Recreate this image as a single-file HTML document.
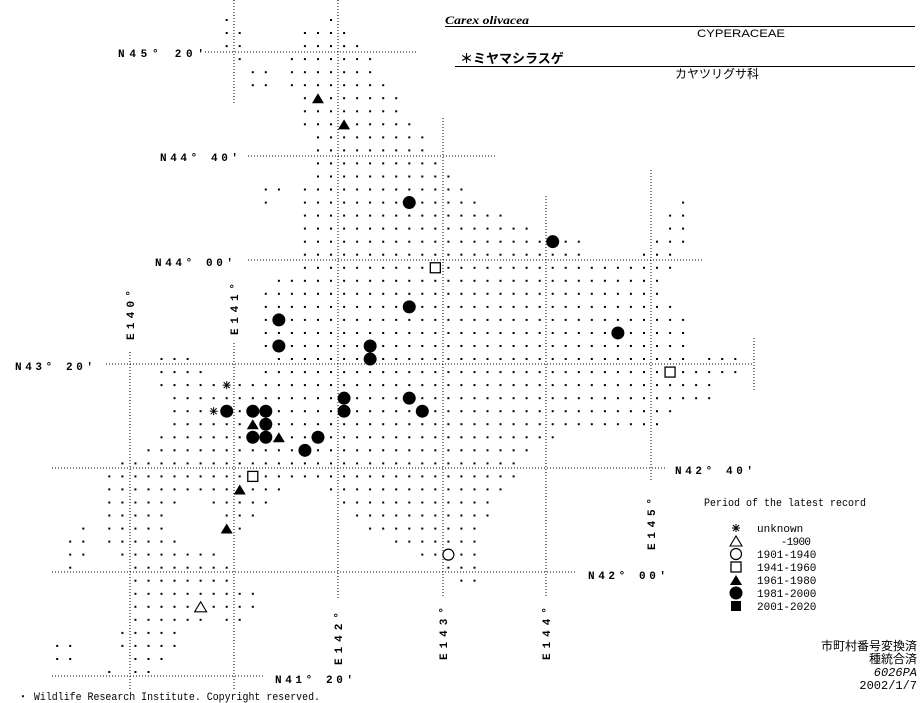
<!DOCTYPE html>
<html><head><meta charset="utf-8"><style>
html,body{margin:0;padding:0;background:#fff;}
svg{display:block;}
.ax{font-family:"Liberation Mono",monospace;font-weight:bold;font-size:11px;fill:#000;}
.mono{font-family:"Liberation Mono",monospace;font-size:11px;fill:#000;}
.jp{font-family:"Liberation Sans","Noto Sans CJK JP",sans-serif;fill:#000;}
</style></head><body>
<svg id="m" width="923" height="703" viewBox="0 0 923 703" xmlns="http://www.w3.org/2000/svg">
<g stroke="#000" stroke-width="1" stroke-dasharray="1,2" fill="none">
<line x1="234" y1="0" x2="234" y2="105"/>
<line x1="234" y1="343" x2="234" y2="690"/>
<line x1="130" y1="352" x2="130" y2="690"/>
<line x1="338" y1="0" x2="338" y2="598"/>
<line x1="443" y1="118" x2="443" y2="598"/>
<line x1="546" y1="196" x2="546" y2="598"/>
<line x1="651" y1="170" x2="651" y2="480"/>
<line x1="754" y1="338" x2="754" y2="390"/>
<line x1="205" y1="52" x2="417" y2="52"/>
<line x1="248" y1="156" x2="497" y2="156"/>
<line x1="248" y1="260" x2="703" y2="260"/>
<line x1="106" y1="364" x2="754" y2="364"/>
<line x1="52" y1="468" x2="665" y2="468"/>
<line x1="52" y1="572" x2="577" y2="572"/>
<line x1="52" y1="676" x2="265" y2="676"/>
</g>
<g class="ax">
<text x="118" y="57" textLength="86" lengthAdjust="spacing">N45° 20′</text>
<text x="160" y="161" textLength="78" lengthAdjust="spacing">N44° 40′</text>
<text x="155" y="266" textLength="78" lengthAdjust="spacing">N44° 00′</text>
<text x="15" y="370" textLength="78" lengthAdjust="spacing">N43° 20′</text>
<text x="675" y="474" textLength="78" lengthAdjust="spacing">N42° 40′</text>
<text x="588" y="579" textLength="78" lengthAdjust="spacing">N42° 00′</text>
<text x="275" y="683" textLength="78" lengthAdjust="spacing">N41° 20′</text>
<text transform="translate(134,340) rotate(-90)" textLength="50" lengthAdjust="spacing">E140°</text>
<text transform="translate(238,335) rotate(-90)" textLength="52" lengthAdjust="spacing">E141°</text>
<text transform="translate(342,665) rotate(-90)" textLength="53" lengthAdjust="spacing">E142°</text>
<text transform="translate(447,660) rotate(-90)" textLength="53" lengthAdjust="spacing">E143°</text>
<text transform="translate(550,660) rotate(-90)" textLength="53" lengthAdjust="spacing">E144°</text>
<text transform="translate(655,550) rotate(-90)" textLength="52" lengthAdjust="spacing">E145°</text>
</g>
<text x="445" y="24" font-family="Liberation Serif,serif" font-style="italic" font-weight="bold" font-size="12" textLength="84" lengthAdjust="spacingAndGlyphs">Carex olivacea</text>
<line x1="445" y1="26.5" x2="915" y2="26.5" stroke="#000"/>
<text x="697" y="37" class="jp" font-size="11" textLength="88" lengthAdjust="spacingAndGlyphs">CYPERACEAE</text>
<text x="460" y="63" class="jp" font-size="13" font-weight="bold">＊ミヤマシラスゲ</text>
<line x1="455" y1="66.5" x2="915" y2="66.5" stroke="#000"/>
<text x="675" y="78" class="jp" font-size="12">カヤツリグサ科</text>
<g id="dots" fill="#000"></g>
<g id="sym"></g>
<text x="704" y="506" class="mono" textLength="162" lengthAdjust="spacingAndGlyphs">Period of the latest record</text>
<g class="mono">
<text x="757" y="532">unknown</text>
<text x="757" y="545" textLength="54" lengthAdjust="spacing" xml:space="preserve">    -1900</text>
<text x="757" y="558">1901-1940</text>
<text x="757" y="571">1941-1960</text>
<text x="757" y="584">1961-1980</text>
<text x="757" y="597">1981-2000</text>
<text x="757" y="610">2001-2020</text>
</g>
<g class="jp" font-size="12" text-anchor="end">
<text x="917" y="650">市町村番号変換済</text>
<text x="917" y="663">種統合済</text>
<text x="917" y="676" font-style="italic" font-family="Liberation Mono,monospace">6026PA</text>
<text x="917" y="689" font-family="Liberation Mono,monospace">2002/1/7</text>
</g>
<text x="18" y="700" class="mono" font-size="10" textLength="302" lengthAdjust="spacingAndGlyphs">・ Wildlife Research Institute. Copyright reserved.</text>
</svg>
<script>
var NS="http://www.w3.org/2000/svg";
function X(c){return 226.7+13.04*c;}
function Y(r){return 20+13.04*r;}
var rows=[
[[0],[8]],[[0,1],[6,9]],[[0,1],[6,10]],[[1],[5,11]],[[2,3],[5,11]],[[2,3],[5,12]],
[[6,13]],[[6,13]],[[6,14]],[[7,15]],[[7,15]],[[7,16]],[[7,17]],
[[3,4],[6,18]],[[3],[6,19],[35]],[[6,21],[34,35]],[[6,23],[34,35]],[[6,27],[33,35]],
[[6,27],[32,34]],[[6,34]],[[4,33]],[[3,33]],[[3,34]],[[3,35]],[[3,35]],[[3,35]],
[[-5,-3],[4,35],[37,39]],[[-5,-2],[3,39]],[[-5,37]],[[-4,37]],[[-4,34]],[[-4,33]],
[[-5,25]],[[-6,23]],[[-8,22]],[[-9,22]],[[-9,4],[8,21]],[[-9,-4],[-1,3],[9,20]],
[[-9,-5],[0,2],[10,20]],[[-11],[-9,-5],[0,1],[11,19]],[[-12,-11],[-9,-4],[13,19]],
[[-12,-11],[-8,-1],[15,19]],[[-12],[-7,0],[17,19]],[[-7,0],[18,19]],[[-7,2]],[[-7,2]],
[[-7,-2],[0,1]],[[-8,-4]],[[-13,-12],[-8,-4]],[[-13,-12],[-7,-5]],[[-9],[-7,-6]]];
var S={};
function add(t,list){list.forEach(function(p){S[p[0]+","+p[1]]=t;});}
add("T",[[6,7],[8,9],[31,2],[32,4],[36,1],[39,0]]);
add("C",[[14,14],[17,25],[22,14],[23,4],[24,30],[25,4],[25,11],[26,11],[29,9],[29,14],[30,0],[30,2],[30,3],[30,9],[30,15],[31,3],[32,2],[32,3],[32,7],[33,6]]);
add("Q",[[19,16],[27,34],[35,2]]);
add("O",[[41,17]]);
add("V",[[45,-2]]);
add("A",[[28,0],[30,-1]]);
var d=document.getElementById("dots"),s=document.getElementById("sym");
function el(n,a,p){var e=document.createElementNS(NS,n);for(var k in a)e.setAttribute(k,a[k]);p.appendChild(e);return e;}
function sym(t,x,y,p){
 if(t=="T"||t=="F")el("polygon",{points:(x-6)+","+(y+5)+" "+x+","+(y-5)+" "+(x+6)+","+(y+5),fill:"#000"},p);
 else if(t=="C")el("circle",{cx:x,cy:y,r:6.5,fill:"#000"},p);
 else if(t=="Q")el("rect",{x:x-5,y:y-5,width:10,height:10,fill:"none",stroke:"#000","stroke-width":1.3},p);
 else if(t=="B")el("rect",{x:x-5,y:y-5,width:10,height:10,fill:"#000"},p);
 else if(t=="O")el("circle",{cx:x,cy:y,r:5.5,fill:"none",stroke:"#000","stroke-width":1.2},p);
 else if(t=="V")el("polygon",{points:(x-6)+","+(y+5)+" "+x+","+(y-5)+" "+(x+6)+","+(y+5),fill:"none",stroke:"#000","stroke-width":1.1},p);
 else if(t=="A"){var g=el("g",{stroke:"#000","stroke-width":1},p);
  el("line",{x1:x-4,y1:y,x2:x+4,y2:y},g);el("line",{x1:x,y1:y-4,x2:x,y2:y+4},g);
  el("line",{x1:x-3,y1:y-3,x2:x+3,y2:y+3},g);el("line",{x1:x-3,y1:y+3,x2:x+3,y2:y-3},g);}
}
rows.forEach(function(rg,r){rg.forEach(function(a){var b=a.length>1?a[1]:a[0];
 for(var c=a[0];c<=b;c++){var k=r+","+c;var x=X(c),y=Y(r);
  if(S[k])sym(S[k],x,y,s);else el("rect",{x:(x-1).toFixed(1),y:(y-1).toFixed(1),width:2,height:2},d);}});});
var ly=[528,541,554,567,580,593,606],lt=["A","V","O","Q","T","C","B"];
lt.forEach(function(t,i){sym(t,736,ly[i],s);});
</script>
</body></html>
